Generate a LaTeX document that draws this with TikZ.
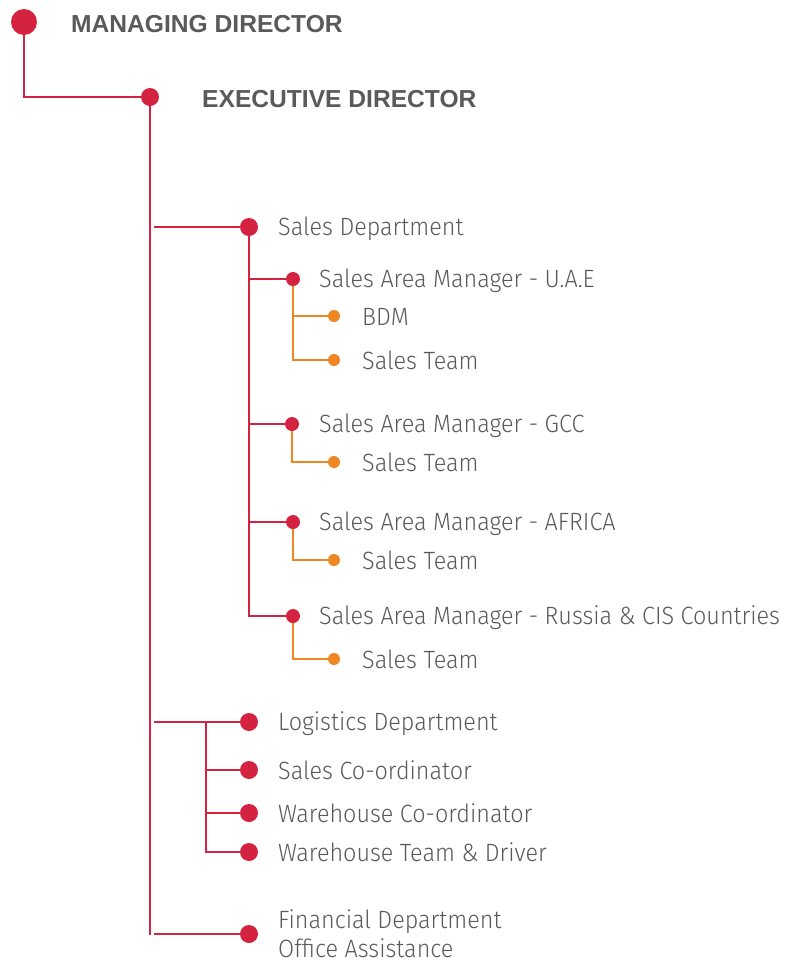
\documentclass[tikz,border=0pt]{standalone}
\usepackage{fontspec}
\setmainfont{Liberation Sans}
\newfontfamily\bodyfont{Fira Sans Light}[FakeStretch=0.935]
\definecolor{myred}{HTML}{D42241}
\definecolor{myorange}{HTML}{EE8621}
\definecolor{mytext}{HTML}{5A5A5A}
\begin{document}
\begin{tikzpicture}[x=1pt,y=-1pt,
  dotA/.style={circle,fill=myred,inner sep=0pt,minimum size=26pt},
  dotB/.style={circle,fill=myred,inner sep=0pt,minimum size=18pt},
  dotC/.style={circle,fill=myred,inner sep=0pt,minimum size=14pt},
  dotD/.style={circle,fill=myorange,inner sep=0pt,minimum size=12pt},
  head/.style={anchor=base west,inner sep=0pt,text=mytext,font=\fontsize{24.6}{28}\selectfont\bfseries},
  lbl/.style={anchor=base west,inner sep=0pt,text=mytext,font=\bodyfont\fontsize{25}{29}\selectfont},
  redline/.style={draw=myred,line width=2.6pt},
  orline/.style={draw=myorange,line width=2.2pt}]
\useasboundingbox (0,0) rectangle (787,962);
% dots
\node[dotA] (md) at (24,22) {};
\node[dotB] (ed) at (150,97) {};
\node[dotB] (sales) at (249,227) {};
\node[dotC] (sam1) at (293,279) {};
\node[dotD] (bdm) at (334,316) {};
\node[dotD] (st1) at (334,360) {};
\node[dotC] (sam2) at (292,424) {};
\node[dotD] (st2) at (334,462) {};
\node[dotC] (sam3) at (293,522) {};
\node[dotD] (st3) at (334,560) {};
\node[dotC] (sam4) at (293,616) {};
\node[dotD] (st4) at (334,659) {};
\node[dotB] (log) at (249,722) {};
\node[dotB] (sco) at (249,770) {};
\node[dotB] (wco) at (249,813) {};
\node[dotB] (wtd) at (249,852) {};
\node[dotB] (fin) at (249,934) {};
% coordinates
\coordinate (edend) at (150,935);
\coordinate (bsales) at (154,227);
\coordinate (blog) at (154,722);
\coordinate (bfin) at (154,934);
\coordinate (lv) at (206,722);
% labels
\node[head] (tmd) at (71,32) {MANAGING DIRECTOR};
\node[head] (ted) at (202,107) {EXECUTIVE DIRECTOR};
\node[lbl] (tsales) at (278,235) {Sales Department};
\node[lbl] (tsam1) at (319,287) {Sales Area Manager - U.A.E};
\node[lbl] (tbdm) at (362,325) {BDM};
\node[lbl] (tst1) at (362,369) {Sales Team};
\node[lbl] (tsam2) at (319,432) {Sales Area Manager - GCC};
\node[lbl] (tst2) at (362,471) {Sales Team};
\node[lbl] (tsam3) at (319,530) {Sales Area Manager - AFRICA};
\node[lbl] (tst3) at (362,569) {Sales Team};
\node[lbl] (tsam4) at (319,624) {Sales Area Manager - Russia \& CIS Countries};
\node[lbl] (tst4) at (362,668) {Sales Team};
\node[lbl] (tlog) at (278,730) {Logistics Department};
\node[lbl] (tsco) at (278,779) {Sales Co-ordinator};
\node[lbl] (twco) at (278,822) {Warehouse Co-ordinator};
\node[lbl] (twtd) at (278,861) {Warehouse Team \& Driver};
\node[lbl,align=left] (tfin) at (278,957) {Financial Department\\Office Assistance};
% connectors
\draw[redline] (md) |- (ed);
\draw[redline] (ed) -- (edend);
\draw[redline] (bsales) -- (sales);
\draw[redline] (blog) -- (log);
\draw[redline] (bfin) -- (fin);
\draw[redline] (sales) -- (sales |- sam4) -- (sam4);
\draw[redline] (sales |- sam1) -- (sam1);
\draw[redline] (sales |- sam2) -- (sam2);
\draw[redline] (sales |- sam3) -- (sam3);
\draw[redline] (lv) |- (wtd);
\draw[redline] (lv |- sco) -- (sco);
\draw[redline] (lv |- wco) -- (wco);
\draw[orline] (sam1) |- (st1);
\draw[orline] (sam1 |- bdm) -- (bdm);
\draw[orline] (sam2) |- (st2);
\draw[orline] (sam3) |- (st3);
\draw[orline] (sam4) |- (st4);
\end{tikzpicture}
\end{document}
